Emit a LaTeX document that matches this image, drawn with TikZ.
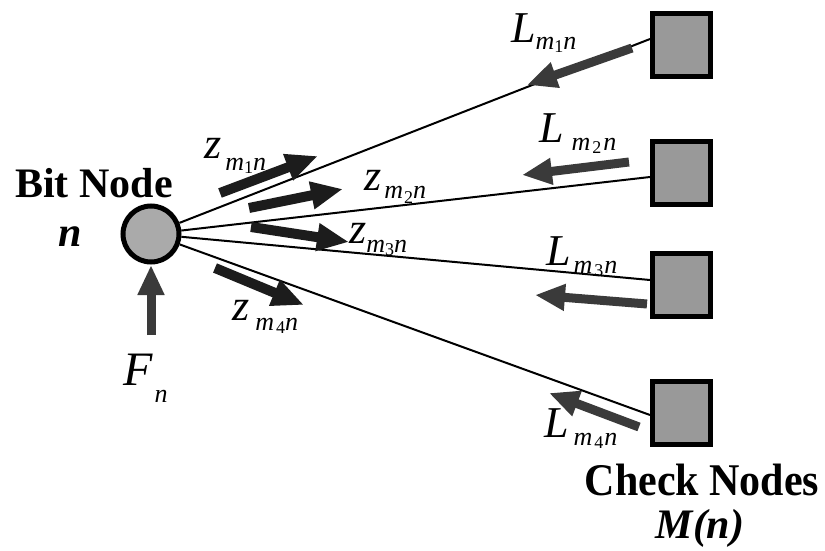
\documentclass[tikz,border=0pt]{standalone}
\usepackage{fontspec}
\setmainfont{Liberation Serif}
\usetikzlibrary{arrows.meta}
\definecolor{bitgray}{HTML}{AAAAAA}
\definecolor{chkgray}{HTML}{999999}
\definecolor{zarrow}{HTML}{1C1C1C}
\definecolor{larrow}{HTML}{3A3A3A}
% label pieces: main italic letter, lowered italic subscript, lowered small digit
\newcommand{\Lmain}[1]{{\fontsize{44}{44}\selectfont\itshape #1}}
\newcommand{\Lsub}[2]{\raisebox{-#1}{\fontsize{26}{26}\selectfont\itshape #2}}
\newcommand{\Ldig}[2]{\raisebox{-#1}{\fontsize{18}{18}\selectfont #2}}
\tikzset{
  bitnode/.style={circle,draw=black,line width=5pt,fill=bitgray,minimum width=53pt,minimum height=56pt,inner sep=0pt},
  chknode/.style={rectangle,draw=black,line width=5pt,fill=chkgray,minimum width=58pt,minimum height=63pt,inner sep=0pt},
  edge/.style={line width=2pt,black},
  zarr/.style={line width=10pt,draw=zarrow,-{Triangle[length=32pt,width=26pt]}},
  larr/.style={line width=9pt,draw=larrow,-{Triangle[length=30pt,width=25pt]}},
  lbl/.style={inner sep=0pt,anchor=base west},
  btitle/.style={inner sep=0pt,anchor=base,font=\fontsize{42}{44}\selectfont\bfseries},
}
\begin{document}
\begin{tikzpicture}[x=1pt,y=-1pt]
\useasboundingbox (0,0) rectangle (825,551);
% nodes
\node[bitnode] (bit) at (151,234) {};
\node[chknode] (c1) at (681.5,45) {};
\node[chknode] (c2) at (681.5,173) {};
\node[chknode] (c3) at (681.5,284.5) {};
\node[chknode] (c4) at (681.5,412.5) {};
% edges
\draw[edge] (bit) -- ([yshift=6pt]c1.west);
\draw[edge] (bit) -- ([yshift=-4pt]c2.west);
\draw[edge] (bit) -- ([yshift=4.5pt]c3.west);
\draw[edge] (bit) -- ([yshift=-2.5pt]c4.west);
% message arrows
\draw[zarr] (220,193) -- (318,156);
\draw[zarr] (249,208) -- (343,189);
\draw[zarr] (251,227) -- (349,242);
\draw[zarr] (215,268) -- (304,305);
\draw[larr] (632,48) -- (527,85);
\draw[larr] (629,162) -- (522,175);
\draw[larr] (647,304) -- (535,295);
\draw[larr] (639,427) -- (549,393);
\draw[larr] (151,335) -- (151,265);
% titles
\node[btitle] (tbit) at (94,197) {Bit Node};
\node[btitle] (tn) at (70,246) {\itshape n};
\node[btitle,yscale=1.08] (tchk) at (702,495) {Check Nodes};
\node[btitle] (tmn) at (700,538) {\itshape M(n)};
% message labels
\node[lbl] (lz1) at (204,158) {\Lmain{z}\hspace{4pt}\Lsub{12pt}{m}\Ldig{15pt}{1}\Lsub{12pt}{n}};
\node[lbl] (lz2) at (364,190) {\Lmain{z}\hspace{3pt}\Lsub{8pt}{m}\hspace{1pt}\Ldig{13pt}{2}\Lsub{8pt}{n}};
\node[lbl] (lz3) at (349,243) {\Lmain{z}\Lsub{9pt}{m}\Ldig{12pt}{3}\Lsub{9pt}{n}};
\node[lbl] (lz4) at (232,320) {\Lmain{z}\hspace{6pt}\Lsub{10pt}{m}\hspace{2pt}\Ldig{13pt}{4}\Lsub{10pt}{n}};
\node[lbl] (ll1) at (511,43) {\Lmain{L}\Lsub{7pt}{m}\Ldig{10pt}{1}\Lsub{7pt}{n}};
\node[lbl] (ll2) at (539,142) {\Lmain{L}\hspace{8pt}\Lsub{8pt}{m}\hspace{2pt}\Ldig{11pt}{2}\hspace{2pt}\Lsub{8pt}{n}};
\node[lbl] (ll3) at (546,265) {\Lmain{L}\hspace{3pt}\Lsub{8pt}{m}\hspace{2pt}\Ldig{11pt}{3}\hspace{1pt}\Lsub{8pt}{n}};
\node[lbl] (ll4) at (544,437) {\Lmain{L}\hspace{5pt}\Lsub{8pt}{m}\hspace{2pt}\Ldig{11pt}{4}\hspace{1pt}\Lsub{8pt}{n}};
\node[lbl] (lf) at (123,385) {{\fontsize{48}{48}\selectfont\itshape F}\hspace{2pt}\raisebox{-17pt}{\fontsize{26}{26}\selectfont\itshape n}};
\end{tikzpicture}
\end{document}
